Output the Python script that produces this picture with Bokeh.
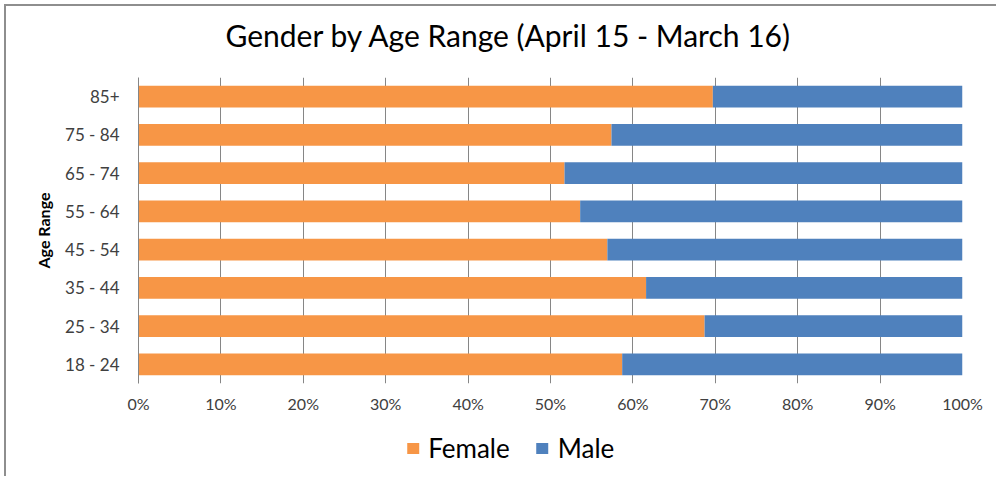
from bokeh.plotting import figure
from bokeh.layouts import column
from bokeh.models import Range1d, FactorRange, FixedTicker, Legend, LegendItem, Title
from bokeh.embed import file_html
from bokeh.resources import INLINE

categories = ["18 - 24", "25 - 34", "35 - 44", "45 - 54", "55 - 64", "65 - 74", "75 - 84", "85+"]
female = [58.7, 68.7, 61.6, 56.9, 53.6, 51.7, 57.4, 69.7]
male = [41.3, 31.3, 38.4, 43.1, 46.4, 48.3, 42.6, 30.3]
x_ticks = [0, 10, 20, 30, 40, 50, 60, 70, 80, 90, 100]
series = ["female", "male"]
series_labels = ["Female", "Male"]
colors = ["#F79646", "#4F81BD"]
title_text = "Gender by Age Range (April 15 - March 16)"

FONT = "Lato"
W, LEFT, RIGHT = 990, 132, 34

# --- title strip ---
tfig = figure(width=W, height=71, output_backend="svg", toolbar_location=None,
              x_axis_location=None, y_axis_location=None, outline_line_color=None,
              min_border_left=LEFT, min_border_right=RIGHT, min_border_top=0, min_border_bottom=0)
tfig.grid.grid_line_color = None
tfig.title = Title(text=title_text, align="left", offset=87,
                   text_font=FONT, text_font_size="30px", text_font_style="normal",
                   text_color="#000000", standoff=16)

# --- main chart ---
p = figure(width=W, height=342, output_backend="svg", toolbar_location=None,
           y_range=FactorRange(*categories), x_range=Range1d(0, 100),
           min_border_left=LEFT, min_border_right=RIGHT, min_border_top=0, min_border_bottom=36,
           outline_line_color=None)

src = {"cat": categories, "female": female, "male": male}
p.hbar_stack(series, y="cat", height=0.57, color=colors, source=src, line_color=None)

p.xaxis.ticker = FixedTicker(ticks=x_ticks)
p.xaxis.major_label_overrides = {t: f"{t}%" for t in x_ticks}
p.xaxis.axis_line_color = None
p.xaxis.major_tick_line_color = None
p.xaxis.minor_tick_line_color = None
p.xaxis.major_tick_out = 0
p.xaxis.major_tick_in = 0
p.xaxis.major_label_standoff = 10
p.xaxis.major_label_text_font = FONT
p.xaxis.major_label_text_font_size = "16px"
p.xaxis.major_label_text_color = "#404040"

p.yaxis.axis_line_color = "#868686"
p.yaxis.major_tick_line_color = None
p.yaxis.minor_tick_line_color = None
p.yaxis.major_tick_out = 0
p.yaxis.major_tick_in = 0
p.yaxis.major_label_standoff = 19
p.yaxis.major_label_text_font = FONT
p.yaxis.major_label_text_font_size = "17px"
p.yaxis.major_label_text_color = "#404040"
p.yaxis.axis_label = "Age Range"
p.yaxis.axis_label_text_font = FONT
p.yaxis.axis_label_text_font_size = "16px"
p.yaxis.axis_label_text_font_style = "bold"
p.yaxis.axis_label_text_color = "#000000"
p.yaxis.axis_label_standoff = 9

p.xgrid.ticker = FixedTicker(ticks=x_ticks)
p.xgrid.grid_line_color = "#868686"
p.ygrid.grid_line_color = None

# --- legend strip (its zero-height bars lie outside the visible x range; only the legend shows) ---
lfig = figure(width=W, height=57, output_backend="svg", toolbar_location=None,
              y_range=FactorRange(*categories), x_range=Range1d(-200, -100),
              x_axis_location=None, y_axis_location=None, outline_line_color=None,
              min_border_left=LEFT, min_border_right=RIGHT, min_border_top=0, min_border_bottom=0)
lfig.grid.grid_line_color = None
lr = lfig.hbar_stack(series, y="cat", height=0.0, color=colors, source=src, line_color=None)
# transparent renderer used only to balance the legend's horizontal position
pad = lfig.hbar(y="cat", right="male", height=0.0, source=src, fill_alpha=0, line_alpha=0)

items = [LegendItem(label=series_labels[i], renderers=[lr[i]]) for i in range(2)]
items.append(LegendItem(label="\u2003\u2002", renderers=[pad]))
legend = Legend(items=items, orientation="horizontal", location="center",
                glyph_width=15, glyph_height=14, label_standoff=8, spacing=25,
                padding=5, margin=0, border_line_color=None, background_fill_alpha=0,
                label_text_font=FONT, label_text_font_size="26px", label_text_color="#000000")
lfig.add_layout(legend)

layout = column(tfig, p, lfig, spacing=0,
                styles={"margin-left": "4px", "margin-top": "4px",
                        "border-top": "2px solid #8e8e8e", "border-left": "2px solid #8e8e8e"})

open("out.html", "w").write(file_html(layout, INLINE))
